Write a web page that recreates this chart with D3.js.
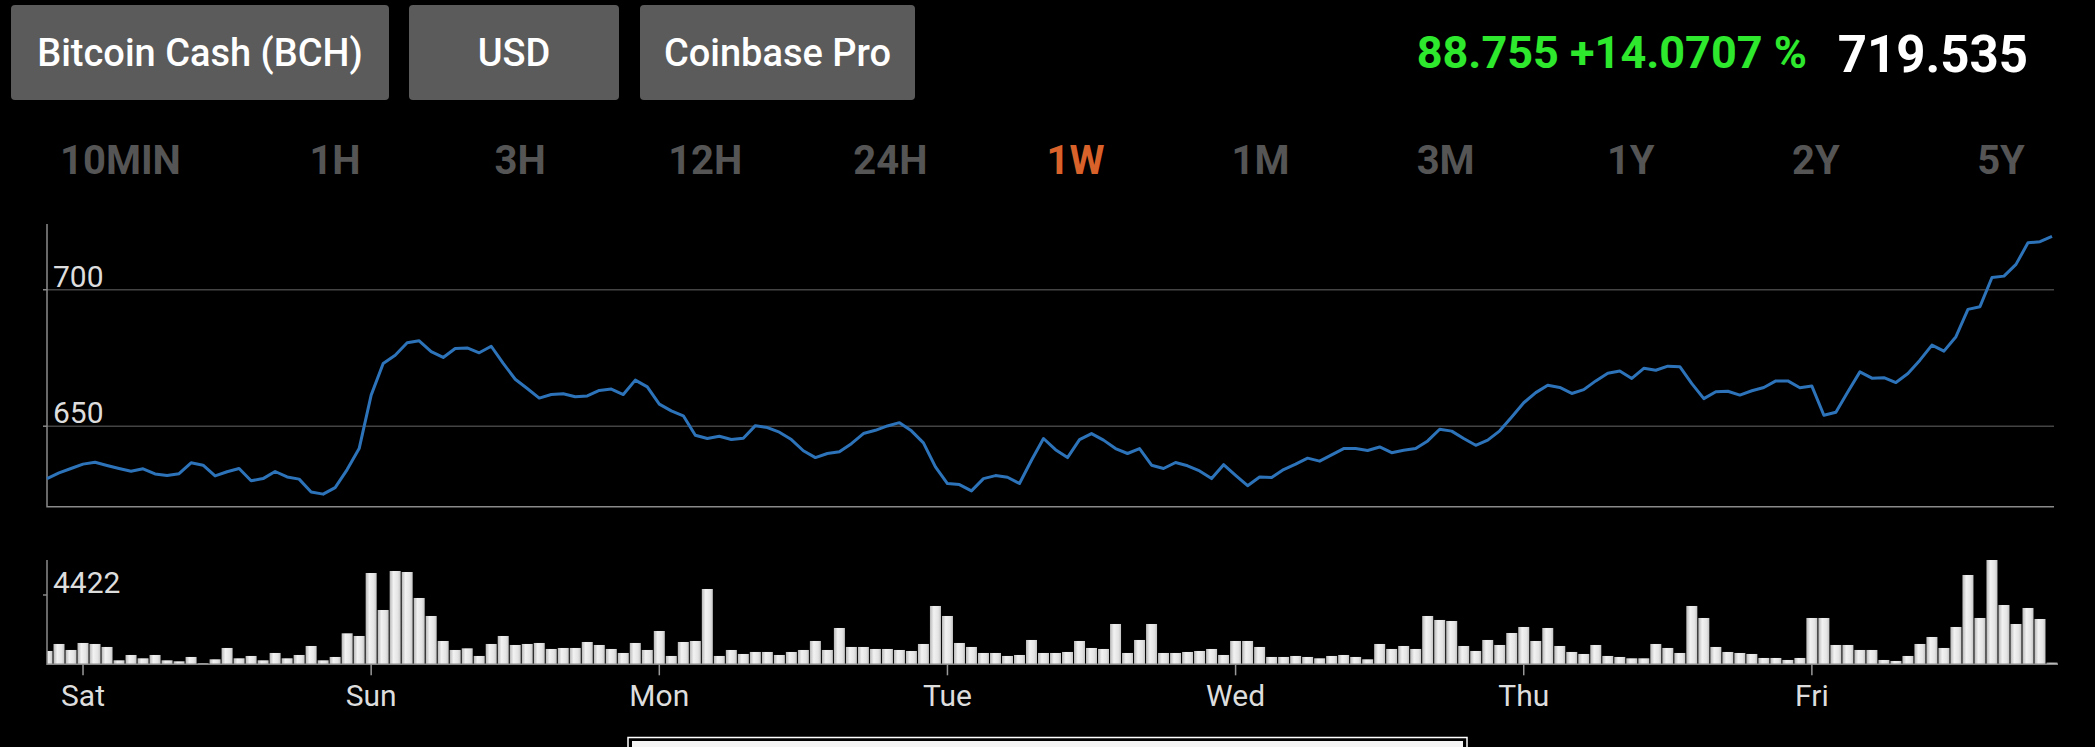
<!DOCTYPE html>
<html lang="en">
<head>
<meta charset="utf-8">
<script src="https://d3js.org/d3.v7.min.js"></script>
<title>BCH 1W</title>
<style>
    body { margin: 0; background: #000; }
    svg { display: block; font-family: Roboto, "Noto Sans", sans-serif; }
</style>
</head>
<body>
<div id="container"></div>
<script>
    // hourly price, Fri 21:00 -> Fri 20:00 (168 points)
    var price = [
        630.8, 632.9, 634.5, 636.1, 636.8, 635.6, 634.5, 633.5, 634.4, 632.5,
        631.9, 632.6, 636.6, 635.7, 631.8, 633.3, 634.5, 630.0, 630.8, 633.4,
        631.4, 630.6, 625.9, 625.1, 627.5, 634.1, 641.8, 661.4, 673.0, 676.0,
        680.6, 681.3, 677.3, 675.2, 678.5, 678.7, 676.9, 679.3, 673.0, 667.2,
        663.8, 660.3, 661.6, 661.9, 660.8, 661.1, 663.1, 663.6, 661.6, 666.9,
        664.4, 658.1, 655.6, 653.8, 646.7, 645.5, 646.3, 645.1, 645.6, 650.2,
        649.5, 647.8, 645.1, 641.0, 638.5, 640.0, 640.6, 643.6, 647.3, 648.5,
        650.1, 651.3, 648.3, 643.9, 635.1, 629.0, 628.6, 626.3, 630.8, 631.9,
        631.3, 629.0, 637.5, 645.5, 641.4, 638.5, 645.1, 647.3, 644.9, 641.8,
        640.0, 641.8, 635.7, 634.5, 636.7, 635.5, 633.6, 630.8, 635.9, 632.0,
        628.2, 631.4, 631.2, 634.1, 636.1, 638.3, 637.2, 639.5, 641.8, 641.8,
        641.1, 642.4, 640.3, 641.2, 641.8, 644.6, 648.9, 648.2, 645.5, 643.0,
        644.9, 648.3, 653.4, 658.6, 662.3, 665.0, 664.2, 662.0, 663.4, 666.6,
        669.4, 670.2, 667.5, 671.2, 670.5, 672.0, 671.8, 665.6, 660.1, 662.6,
        662.8, 661.4, 663.0, 664.2, 666.6, 666.6, 664.1, 664.7, 654.0, 655.1,
        662.6, 669.9, 667.6, 667.8, 666.0, 669.3, 674.2, 679.7, 677.5, 682.8,
        692.8, 693.8, 704.5, 705.0, 709.3, 717.2, 717.6, 719.535
    ];

    var volume = [
        850, 1297, 914, 1361, 1297, 1106, 255, 595, 383, 595,
        255, 191, 468, 64, 319, 1042, 383, 532, 255, 723,
        383, 595, 1169, 255, 468, 1977, 1807, 5825, 3465, 5953,
        5889, 4231, 3083, 1488, 914, 1020, 532, 1297, 1807, 1233,
        1297, 1361, 978, 1042, 1042, 1424, 1233, 978, 723, 1361,
        914, 2126, 532, 1424, 1488, 4805, 532, 914, 659, 787,
        787, 595, 787, 914, 1488, 914, 2317, 1106, 1106, 978,
        978, 914, 850, 1297, 3721, 3083, 1361, 1106, 723, 723,
        532, 595, 1552, 723, 723, 787, 1488, 1042, 978, 2572,
        723, 1552, 2572, 723, 723, 787, 850, 978, 595, 1488,
        1488, 1106, 468, 468, 532, 468, 383, 532, 595, 468,
        319, 1297, 978, 1169, 978, 3083, 2828, 2764, 1169, 850,
        1552, 1233, 1998, 2381, 1488, 2317, 1169, 787, 659, 1233,
        532, 468, 383, 383, 1297, 1042, 723, 3721, 2955, 1106,
        787, 723, 659, 404, 404, 276, 404, 2955, 2955, 1233,
        1233, 914, 914, 276, 213, 532, 1297, 1743, 1042, 2381,
        5698, 2955, 6654, 3784, 2572, 3593, 2891, 106
    ];

    var days = ["Sat", "Sun", "Mon", "Tue", "Wed", "Thu", "Fri"];
    var dayHour = [3, 27, 51, 75, 99, 123, 147];

    var priceTicks = [650, 700];
    var volumeTick = 4422;

    var buttons = ["Bitcoin Cash (BCH)", "USD", "Coinbase Pro"];
    var ranges = ["10MIN", "1H", "3H", "12H", "24H", "1W", "1M", "3M", "1Y", "2Y", "5Y"];
    var activeRange = "1W";

    var change = "88.755 +14.0707 %";
    var last = "719.535";

    var W = 2095, H = 747;
    var svg = d3.select("#container").append("svg")
        .attr("width", W).attr("height", H)
        .style("background", "#000");

    // ---- header buttons
    var btnX = [11, 409, 640], btnW = [378, 210, 275];
    var btn = svg.selectAll(".btn").data(buttons).enter().append("g")
        .attr("transform", function(d, i) { return "translate(" + btnX[i] + ",5)"; });
    btn.append("rect")
        .attr("width", function(d, i) { return btnW[i]; })
        .attr("height", 95)
        .attr("rx", 4)
        .attr("fill", "#5b5b5b");
    btn.append("text")
        .attr("x", function(d, i) { return btnW[i] / 2; })
        .attr("y", 61)
        .attr("text-anchor", "middle")
        .attr("fill", "#fff")
        .style("font-size", "38px").style("font-weight", 500)
        .text(function(d) { return d; });

    svg.append("text")
        .attr("x", 1807).attr("y", 68)
        .attr("text-anchor", "end")
        .attr("fill", "#2ee82e")
        .style("font-size", "45px").style("font-weight", "bold")
        .text(change);
    svg.append("text")
        .attr("x", 2028).attr("y", 72)
        .attr("text-anchor", "end")
        .attr("fill", "#fff")
        .style("font-size", "51px").style("font-weight", "bold")
        .text(last);

    // ---- range selector: first label flush left, the rest on an even step
    var rx = d3.scalePoint().domain(ranges.slice(1)).range([335, 2001]);
    svg.selectAll(".range").data(ranges).enter().append("text")
        .attr("x", function(d, i) { return i == 0 ? 60 : rx(d); })
        .attr("y", 174)
        .attr("text-anchor", function(d, i) { return i == 0 ? "start" : "middle"; })
        .attr("fill", function(d) { return d == activeRange ? "#d9622b" : "#555"; })
        .style("font-size", "40px").style("font-weight", "bold")
        .text(function(d) { return d; });

    // ---- scales
    var x = d3.scaleLinear().domain([0, price.length - 1]).range([47, 2052]);
    var y = d3.scaleLinear().domain([620.5, 724.1]).range([506.7, 224]);
    var yv = d3.scaleLinear().domain([0, d3.max(volume)]).range([664.3, 560]);

    // ---- price panel
    svg.append("g").selectAll("line").data(priceTicks).enter().append("line")
        .attr("x1", 47).attr("x2", 2054)
        .attr("y1", function(d) { return y(d); }).attr("y2", function(d) { return y(d); })
        .attr("stroke", "#444").attr("stroke-width", 1.5);
    svg.append("g").selectAll("line").data(priceTicks).enter().append("line")
        .attr("x1", 43).attr("x2", 47)
        .attr("y1", function(d) { return y(d); }).attr("y2", function(d) { return y(d); })
        .attr("stroke", "#888").attr("stroke-width", 1.5);
    svg.append("g").selectAll("text").data(priceTicks).enter().append("text")
        .attr("x", 53).attr("y", function(d) { return y(d) - 3; })
        .attr("fill", "#ddd")
        .style("font-size", "30px")
        .text(function(d) { return d; });
    svg.append("path")
        .attr("d", "M47," + y.range()[1] + "V" + y.range()[0] + "H2054")
        .attr("fill", "none").attr("stroke", "#8a8a8a").attr("stroke-width", 1.5);

    svg.append("path")
        .datum(price)
        .attr("fill", "none")
        .attr("stroke", "#2d73b9")
        .attr("stroke-width", 3)
        .attr("stroke-linejoin", "round")
        .attr("d", d3.line()
            .x(function(d, i) { return x(i); })
            .y(function(d) { return y(d); }));

    // ---- volume panel
    var defs = svg.append("defs");
    var grad = defs.append("linearGradient").attr("id", "barGrad")
        .attr("x1", "0").attr("x2", "1").attr("y1", "0").attr("y2", "0");
    grad.append("stop").attr("offset", "0%").attr("stop-color", "#b8b8b8");
    grad.append("stop").attr("offset", "35%").attr("stop-color", "#f2f2f2");
    grad.append("stop").attr("offset", "75%").attr("stop-color", "#e4e4e4");
    grad.append("stop").attr("offset", "100%").attr("stop-color", "#c4c4c4");
    defs.append("clipPath").attr("id", "volClip")
        .append("rect").attr("x", 47).attr("y", 540).attr("width", 2020).attr("height", 130);

    var bw = 11;
    svg.append("g").attr("clip-path", "url(#volClip)")
        .selectAll("rect").data(volume).enter().append("rect")
        .attr("x", function(d, i) { return x(i) - bw / 2; })
        .attr("y", function(d) { return yv(d); })
        .attr("width", bw)
        .attr("height", function(d) { return yv(0) - yv(d); })
        .attr("fill", "url(#barGrad)");

    svg.append("path")
        .attr("d", "M47,560V" + yv(0) + "H2058")
        .attr("fill", "none").attr("stroke", "#8a8a8a").attr("stroke-width", 1.5);
    svg.append("line")
        .attr("x1", 43).attr("x2", 47)
        .attr("y1", yv(volumeTick)).attr("y2", yv(volumeTick))
        .attr("stroke", "#888").attr("stroke-width", 1.5);
    svg.append("text")
        .attr("x", 53).attr("y", yv(volumeTick) - 2)
        .attr("fill", "#ddd")
        .style("font-size", "30px")
        .text(volumeTick);

    // day axis
    var dayG = svg.append("g").selectAll("g").data(days).enter().append("g")
        .attr("transform", function(d, i) { return "translate(" + x(dayHour[i]) + ",0)"; });
    dayG.append("line")
        .attr("y1", yv(0)).attr("y2", yv(0) + 11)
        .attr("stroke", "#999").attr("stroke-width", 1.5);
    dayG.append("text")
        .attr("y", 706)
        .attr("text-anchor", "middle")
        .attr("fill", "#ddd")
        .style("font-size", "30px")
        .text(function(d) { return d; });

    // cut-off panel at the bottom edge
    svg.append("rect")
        .attr("x", 628).attr("y", 737.5).attr("width", 839).attr("height", 30)
        .attr("fill", "#000").attr("stroke", "#fff").attr("stroke-width", 1.5);
    svg.append("rect")
        .attr("x", 632).attr("y", 741).attr("width", 831).attr("height", 30)
        .attr("fill", "#f4f4f4");
</script>
</body>
</html>
